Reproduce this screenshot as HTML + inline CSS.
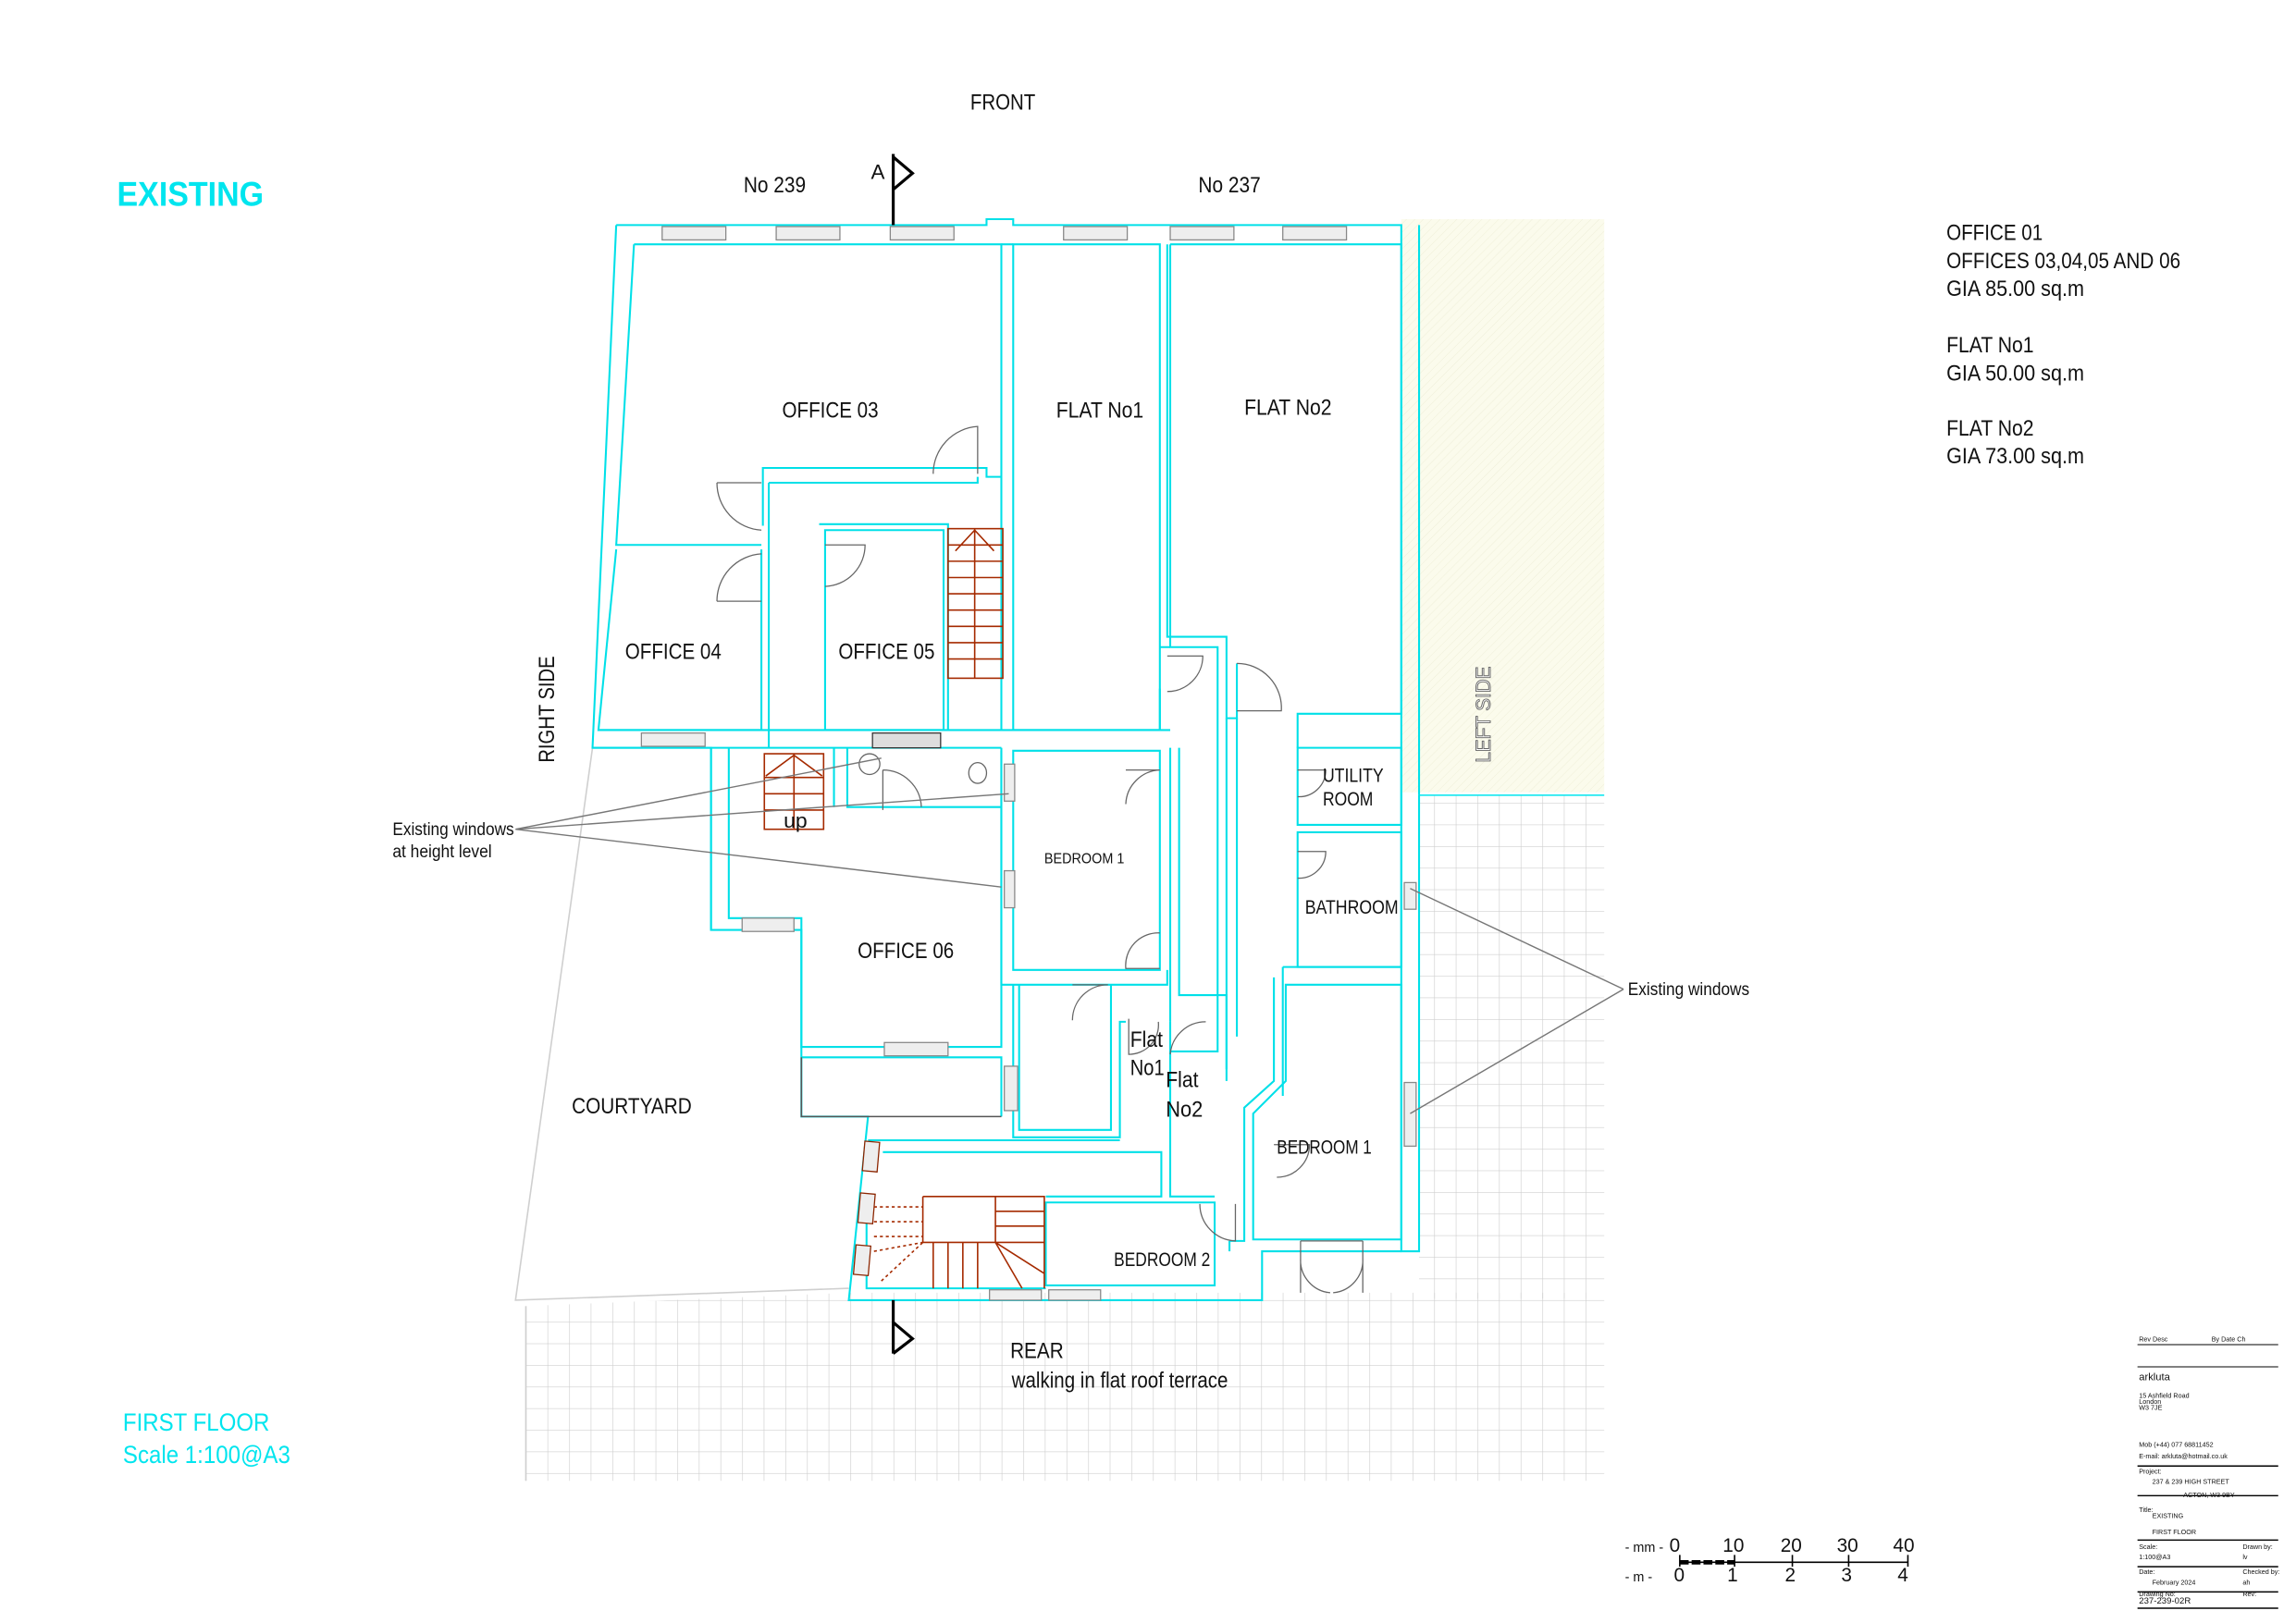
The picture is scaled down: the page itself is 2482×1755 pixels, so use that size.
<!DOCTYPE html>
<html><head><meta charset="utf-8"><style>
html,body{margin:0;padding:0;background:#fff;}
svg{display:block;}
text{font-family:"Liberation Sans",sans-serif;fill:#111;}
</style></head><body>
<svg width="2482" height="1755" viewBox="0 0 1550 1096" xmlns="http://www.w3.org/2000/svg">
<defs>
<pattern id="g" x="355" y="878" width="14.6" height="14.6" patternUnits="userSpaceOnUse">
<path d="M0 0H14.6M0 0V14.6" stroke="#cfcfcf" stroke-width="0.8" fill="none"/>
</pattern>
<pattern id="h" width="4" height="4" patternUnits="userSpaceOnUse" patternTransform="rotate(45)">
<path d="M0 0V4" stroke="#efefd8" stroke-width="0.6"/>
</pattern>
</defs>
<rect width="1550" height="1096" fill="#fff"/>
<rect x="946" y="148" width="137" height="387" fill="#fbfbec"/>
<rect x="946" y="148" width="137" height="387" fill="url(#h)"/>
<rect x="958" y="537" width="125" height="340" fill="url(#g)"/>
<polygon points="355,882 573,873 1083,873 1083,1000 355,1000" fill="url(#g)"/>
<path d="M400 505 L348 878 L573 870" stroke="#cfcfcf" stroke-width="1" fill="none"/>
<line x1="355" y1="882" x2="355" y2="1000" stroke="#cfcfcf"/>
<line x1="958" y1="537" x2="1083" y2="537" stroke="#00e5ee" stroke-width="1"/>

<g fill="none" stroke="#00e0e8" stroke-width="1.3">
<path d="M416 152 L666 152 L666 148 L684 148 L684 152 L946 152 L946 845 L958 845 L958 537"/>
<path d="M958 152 L958 537"/>
<path d="M416 152 L400 505 L480 505 L480 628 L541 628 L541 714"/>
<path d="M541 714 L541 754 L586 754 L573 878 L852 878 L852 845 L946 845"/>
<path d="M428 165 L676 165 L676 322 L666 322 L666 316 L515 316 L515 323 L515 355"/>
<path d="M428 165 L416 368 L514 368"/>
<path d="M416 371 L404 493 L514 493 L514 371"/>
<path d="M519 326 L660 326 L660 322"/>
<path d="M519 326 L519 505"/>
<path d="M557 358 L637 358 L637 493 L557 493 Z"/>
<path d="M553 354 L640 354 L640 493"/>
<path d="M684 165 L783 165 L783 493 L684 493 Z"/>
<path d="M676 165 L684 165 M676 322 L676 493"/>
<path d="M790 165 L946 165 L946 482 L876 482 L876 505"/>
<path d="M788 165 L788 430 L828 430 L828 485 L835 485 L835 448"/>
<path d="M790 165 L790 437 L822 437 L822 710 L790 710"/>
<path d="M783 437 L790 437 M783 465 L783 493"/>
<path d="M404 493 L790 493 M400 505 L676 505"/>
<path d="M492 505 L492 620 L541 620 L541 707 L676 707 L676 505"/>
<path d="M480 505 L480 628"/>
<path d="M572 505 L572 545 L676 545 M563 545 L563 505"/>
<path d="M684 507 L783 507 L783 655 L684 655 Z"/>
<path d="M676 507 L676 665 L788 665 L788 655"/>
<path d="M790 505 L790 690 M796 505 L796 672 L828 672 L828 730"/>
<path d="M828 485 L828 722 M835 485 L835 700"/>
<path d="M876 505 L946 505 L946 557 L876 557 Z"/>
<path d="M876 562 L946 562 L946 653 L876 653 Z"/>
<path d="M866 653 L946 653 M866 653 L866 740"/>
<path d="M868 665 L946 665 L946 837 L846 837 L846 752 L868 730 Z"/>
<path d="M860 660 L860 730 L840 748 L840 838 L830 838"/>
<path d="M688 665 L688 763 L750 763 L750 665"/>
<path d="M684 665 L684 768 L756 768 L756 690 L760 690"/>
<path d="M541 714 L676 714 L676 754"/>
<path d="M586 770 L756 770 M596 778 L784 778 L784 808 L706 808"/>
<path d="M790 690 L790 808 L820 808"/>
<path d="M706 812 L820 812 L820 868 L706 868 Z"/>
<path d="M585 808 L585 870 L706 870"/>
<path d="M830 838 L830 845"/>
</g>
<g fill="none" stroke="#555" stroke-width="1">
<path d="M541 714 L541 754 L676 754"/>
</g>
<g fill="#eee" stroke="#888" stroke-width="0.8">
<rect x="447" y="153" width="43" height="9"/><rect x="524" y="153" width="43" height="9"/>
<rect x="601" y="153" width="43" height="9"/><rect x="718" y="153" width="43" height="9"/>
<rect x="790" y="153" width="43" height="9"/><rect x="866" y="153" width="43" height="9"/>
<rect x="433" y="495" width="43" height="9"/><rect x="501" y="620" width="35" height="9"/>
<rect x="597" y="704" width="43" height="9"/><rect x="678" y="720" width="9" height="30"/>
<rect x="678" y="516" width="7" height="25"/><rect x="678" y="588" width="7" height="25"/>
<rect x="948" y="596" width="8" height="18"/><rect x="948" y="731" width="8" height="43"/>
<rect x="668" y="871" width="35" height="7"/><rect x="708" y="871" width="35" height="7"/>
<rect x="589" y="495" width="46" height="10" fill="#ddd" stroke="#333"/>
</g>
<g fill="#eee" stroke="#8b2500" stroke-width="0.8">
<rect x="583" y="771" width="10" height="20" transform="rotate(5 588 781)"/>
<rect x="580" y="806" width="10" height="20" transform="rotate(5 585 816)"/>
<rect x="577" y="841" width="10" height="20" transform="rotate(5 582 851)"/>
</g>
<g fill="none" stroke="#a52a00" stroke-width="1">
<rect x="640" y="357" width="37" height="101"/>
<path d="M658 357V458 M640 368H677 M640 379H677 M640 390H677 M640 401H677 M640 412H677 M640 423H677 M640 434H677 M640 445H677 M645 372 L658 358 L671 372"/>
<rect x="516" y="509" width="40" height="51"/>
<path d="M536 509V560 M516 525H556 M516 536H556 M516 547H556 M517 524 L536 510 L555 524"/>
<path d="M623 808 H705 V870 M623 808 V839 H705 M672 808V839 M672 818H705 M672 828H705 M630 839V870 M640 839V870 M650 839V870 M660 839V870 M672 839 L690 870 M672 839 L705 860"/>
<path d="M590 815H623 M590 825H623 M590 835H623 M590 845 L623 839 M595 865 L623 839" stroke-dasharray="2 2"/>
</g>
<g fill="none" stroke="#666" stroke-width="0.8">
<path d="M630 320 A32 32 0 0 1 660 288 V320"/>
<path d="M484 326 H514 M484 326 A32 32 0 0 0 514 358"/>
<path d="M484 406 H514 M484 406 A32 32 0 0 1 514 374"/>
<path d="M557 368 H584 A28 28 0 0 1 557 396"/>
<path d="M788 443 H812 A24 24 0 0 1 788 467"/>
<path d="M835 448 A30 30 0 0 1 865 480 H835"/>
<path d="M596 520 V547 M596 520 A26 26 0 0 1 622 545"/>
<path d="M760 520 H783 A24 24 0 0 0 760 543"/>
<path d="M783 630 A22 22 0 0 0 760 654 H783"/>
<path d="M724 665 H748 A24 24 0 0 0 724 689"/>
<path d="M762 688 V712 A20 20 0 0 0 782 690"/>
<path d="M790 712 A24 24 0 0 1 814 690"/>
<path d="M876 520 H895 A18 18 0 0 1 876 538"/>
<path d="M876 575 H895 A18 18 0 0 1 876 593"/>
<path d="M860 773 H884 A22 22 0 0 1 862 795"/>
<path d="M834 813 V838 A25 25 0 0 1 810 813"/>
<path d="M878 838 V873 M878 850 A22 22 0 0 0 898 873 M920 838 V873 M920 850 A22 22 0 0 1 900 873 M878 838 H920"/>
<circle cx="587" cy="516" r="7"/><ellipse cx="660" cy="522" rx="6" ry="7"/>
</g>
<g stroke="#777" stroke-width="0.9" fill="none">
<path d="M348 560 L595 512 M348 560 L681 536 M348 560 L676 599"/>
<path d="M1096 668 L952 600 M1096 668 L952 752"/>
</g>
<g stroke="#000" stroke-width="2" fill="none">
<path d="M603 104 V152 M603 106 L616 117 L603 128"/>
<path d="M603 878 V914 M603 893 L616 904 L603 914"/>
</g>
<g>
<text x="79" y="139" font-size="23" font-weight="bold" style="fill:#00e5ee" textLength="99" lengthAdjust="spacingAndGlyphs">EXISTING</text>
<text x="655" y="74" font-size="15" textLength="44" lengthAdjust="spacingAndGlyphs">FRONT</text>
<text x="502" y="130" font-size="15" textLength="42" lengthAdjust="spacingAndGlyphs">No 239</text>
<text x="588" y="121" font-size="14">A</text>
<text x="809" y="130" font-size="15" textLength="42" lengthAdjust="spacingAndGlyphs">No 237</text>
<text x="528" y="282" font-size="15" textLength="65" lengthAdjust="spacingAndGlyphs">OFFICE 03</text>
<text x="713" y="282" font-size="15" textLength="59" lengthAdjust="spacingAndGlyphs">FLAT No1</text>
<text x="840" y="280" font-size="15" textLength="59" lengthAdjust="spacingAndGlyphs">FLAT No2</text>
<text x="422" y="445" font-size="15" textLength="65" lengthAdjust="spacingAndGlyphs">OFFICE 04</text>
<text x="566" y="445" font-size="15" textLength="65" lengthAdjust="spacingAndGlyphs">OFFICE 05</text>
<text x="579" y="647" font-size="15" textLength="65" lengthAdjust="spacingAndGlyphs">OFFICE 06</text>
<text x="705" y="583" font-size="10" textLength="54" lengthAdjust="spacingAndGlyphs">BEDROOM  1</text>
<text x="893" y="528" font-size="13" textLength="41" lengthAdjust="spacingAndGlyphs">UTILITY</text>
<text x="893" y="544" font-size="13" textLength="34" lengthAdjust="spacingAndGlyphs">ROOM</text>
<text x="881" y="617" font-size="13" textLength="63" lengthAdjust="spacingAndGlyphs">BATHROOM</text>
<text x="862" y="779" font-size="13" textLength="64" lengthAdjust="spacingAndGlyphs">BEDROOM 1</text>
<text x="752" y="855" font-size="13" textLength="65" lengthAdjust="spacingAndGlyphs">BEDROOM 2</text>
<text x="763" y="707" font-size="15" textLength="22" lengthAdjust="spacingAndGlyphs">Flat</text><text x="763" y="726" font-size="15" textLength="23" lengthAdjust="spacingAndGlyphs">No1</text>
<text x="787" y="734" font-size="15" textLength="22" lengthAdjust="spacingAndGlyphs">Flat</text><text x="787" y="754" font-size="15" textLength="25" lengthAdjust="spacingAndGlyphs">No2</text>
<text x="529" y="559" font-size="14" textLength="16" lengthAdjust="spacingAndGlyphs">up</text>
<text x="386" y="752" font-size="15" textLength="81" lengthAdjust="spacingAndGlyphs">COURTYARD</text>
<text x="682" y="917" font-size="15" textLength="36" lengthAdjust="spacingAndGlyphs">REAR</text>
<text x="683" y="937" font-size="15" textLength="146" lengthAdjust="spacingAndGlyphs">walking in flat roof terrace</text>
<text x="265" y="564" font-size="12" textLength="82" lengthAdjust="spacingAndGlyphs">Existing windows</text>
<text x="265" y="579" font-size="12" textLength="67" lengthAdjust="spacingAndGlyphs">at height level</text>
<text x="1099" y="672" font-size="12" textLength="82" lengthAdjust="spacingAndGlyphs">Existing windows</text>
<text transform="translate(374 515) rotate(-90)" font-size="15" textLength="72" lengthAdjust="spacingAndGlyphs">RIGHT SIDE</text>
<text transform="translate(1006 515) rotate(-90)" font-size="14" style="fill:#fff;stroke:#666;stroke-width:0.6" textLength="65" lengthAdjust="spacingAndGlyphs">LEFT SIDE</text>
<text x="1314" y="162" font-size="15" textLength="65" lengthAdjust="spacingAndGlyphs">OFFICE 01</text>
<text x="1314" y="181" font-size="15" textLength="158" lengthAdjust="spacingAndGlyphs">OFFICES 03,04,05 AND 06</text>
<text x="1314" y="200" font-size="15" textLength="93" lengthAdjust="spacingAndGlyphs">GIA  85.00 sq.m</text>
<text x="1314" y="238" font-size="15" textLength="59" lengthAdjust="spacingAndGlyphs">FLAT No1</text>
<text x="1314" y="257" font-size="15" textLength="93" lengthAdjust="spacingAndGlyphs">GIA  50.00 sq.m</text>
<text x="1314" y="294" font-size="15" textLength="59" lengthAdjust="spacingAndGlyphs">FLAT No2</text>
<text x="1314" y="313" font-size="15" textLength="93" lengthAdjust="spacingAndGlyphs">GIA  73.00 sq.m</text>
<text x="83" y="966" font-size="17" style="fill:#00e5ee" textLength="99" lengthAdjust="spacingAndGlyphs">FIRST FLOOR</text>
<text x="83" y="988" font-size="17" style="fill:#00e5ee" textLength="113" lengthAdjust="spacingAndGlyphs">Scale 1:100@A3</text>
</g>
<g font-family="Liberation Mono" font-size="13">
<text x="1097" y="1048" font-size="9">- mm -</text><text x="1127" y="1048">0</text><text x="1163" y="1048">10</text><text x="1202" y="1048">20</text><text x="1240" y="1048">30</text><text x="1278" y="1048">40</text>
<text x="1097" y="1068" font-size="9">- m -</text><text x="1130" y="1068">0</text><text x="1166" y="1068">1</text><text x="1205" y="1068">2</text><text x="1243" y="1068">3</text><text x="1281" y="1068">4</text>
</g>
<g stroke="#000" stroke-width="1"><path d="M1134 1055 H1288 M1134 1050V1058 M1171 1050V1058 M1210 1050V1058 M1248 1050V1058 M1288 1050V1058"/>
<path d="M1134 1055 H1171" stroke-width="3" stroke-dasharray="6 2"/></g>
<g stroke="#000" fill="none"><path d="M1443 908H1538 M1443 923H1538" stroke-width="0.6"/>
<path d="M1443 990H1538 M1443 1010H1538 M1443 1040H1538 M1443 1058H1538 M1443 1075H1538 M1443 1086H1538" stroke-width="0.9"/></g>
<g font-size="4.5"><text x="1444" y="906">Rev  Desc</text><text x="1493" y="906">By   Date   Ch</text>
<text x="1444" y="932" font-size="7">arkluta</text><text x="1444" y="944">15 Ashfield Road</text><text x="1444" y="948">London</text><text x="1444" y="952">W3 7JE</text>
<text x="1444" y="977">Mob (+44) 077 68811452</text><text x="1444" y="985">E-mail: arkluta@hotmail.co.uk</text>
<text x="1444" y="995">Project:</text><text x="1453" y="1002">237 &amp; 239 HIGH STREET</text><text x="1474" y="1011">ACTON, W3 9BY</text>
<text x="1444" y="1021">Title:</text><text x="1453" y="1025">EXISTING</text><text x="1453" y="1036">FIRST FLOOR</text>
<text x="1444" y="1046">Scale:</text><text x="1444" y="1053">1:100@A3</text><text x="1514" y="1046">Drawn by:</text><text x="1514" y="1053">lv</text>
<text x="1444" y="1063">Date:</text><text x="1453" y="1070">February 2024</text><text x="1514" y="1063">Checked by:</text><text x="1514" y="1070">ah</text>
<text x="1444" y="1078">Drawing No:</text><text x="1444" y="1083" font-size="6">237-239-02R</text><text x="1514" y="1078">Rev:</text></g>
</svg>
</body></html>
